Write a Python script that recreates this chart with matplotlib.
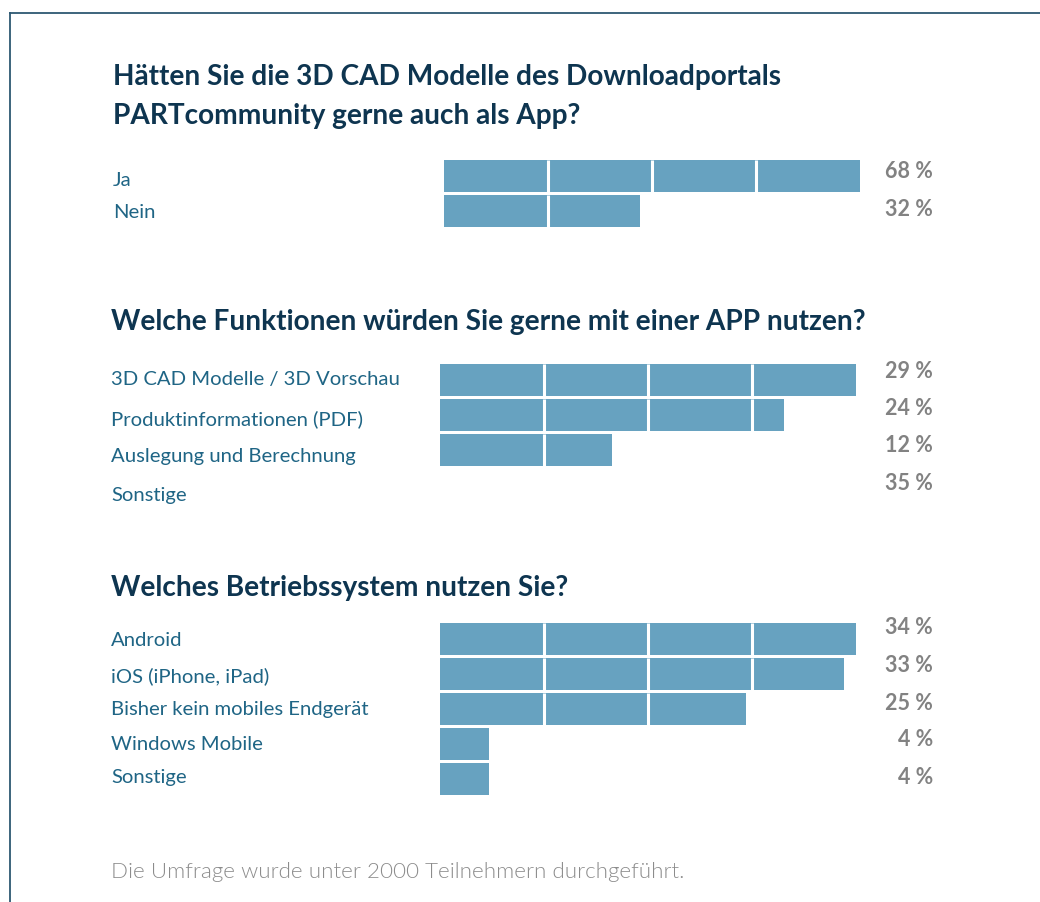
import matplotlib.pyplot as plt
from matplotlib.lines import Line2D
import numpy as np

# survey data
q1_title = "Hätten Sie die 3D CAD Modelle des Downloadportals\nPARTcommunity gerne auch als App?"
q1_labels = ["Ja", "Nein"]
q1_values = [68, 32]

q2_title = "Welche Funktionen würden Sie gerne mit einer APP nutzen?"
q2_labels = ["3D CAD Modelle / 3D Vorschau", "Produktinformationen (PDF)",
             "Auslegung und Berechnung", "Sonstige"]
q2_values = [29, 24, 12, 35]
q2_has_bar = [True, True, True, False]   # "Sonstige" has no bar in the original

q3_title = "Welches Betriebssystem nutzen Sie?"
q3_labels = ["Android", "iOS (iPhone, iPad)", "Bisher kein mobiles Endgerät",
             "Windows Mobile", "Sonstige"]
q3_values = [34, 33, 25, 4, 4]
q3_has_bar = [True, True, True, True, True]

footer = "Die Umfrage wurde unter 2000 Teilnehmern durchgeführt."

W, H = 1040, 902
BAR = "#67a2c0"
TITLE = "#0e3550"
LABEL = "#1f6585"
PCT = "#828282"
FONT = "Lato"

fig = plt.figure(figsize=(W / 100, H / 100), dpi=100)
fig.patch.set_facecolor("white")


def fx(x):
    return x / W


def fy(y):
    return 1 - y / H


def question(title, title_y, labels, values, has_bar, bar_left, bar_top,
             label_x, label_ys, pct_ys):
    # title_y is the baseline of the last title line
    fig.text(fx(label_x), fy(title_y), title, fontsize=20.2, fontweight="bold",
             color=TITLE, family=FONT, va="baseline", linespacing=1.6)
    n = len(values)
    pitch, bh = 35, 32
    ax = fig.add_axes([fx(bar_left), fy(bar_top + n * pitch - (pitch - bh)),
                       416 / W, (n * pitch - (pitch - bh)) / H])
    bar_vals = np.array([v if b else 0 for v, b in zip(values, has_bar)])
    vmax = bar_vals.max()
    seg = vmax / 4
    y = np.arange(n)
    h = bh / pitch
    ax.barh(y, bar_vals, height=h, color=BAR, linewidth=0)
    # white dividers every quarter of the longest bar
    for yi, v in zip(y, bar_vals):
        for k in range(1, 4):
            if k * seg < v:
                ax.vlines(k * seg, yi - h / 2, yi + h / 2, color="white", lw=2.2)
    ax.set_xlim(0, vmax)
    ax.set_ylim(n - 1 + h / 2, -h / 2)
    ax.axis("off")
    for lab, ly in zip(labels, label_ys):
        fig.text(fx(label_x), fy(ly), lab, fontsize=14.6, color=LABEL,
                 family=FONT, va="center")
    for v, py in zip(values, pct_ys):
        fig.text(fx(933), fy(py), f"{v} %", fontsize=15.5, fontweight="bold",
                 color=PCT, family=FONT, va="center", ha="right")


question(q1_title, 124, q1_labels, q1_values, [True, True], 444, 160,
         113, [181, 213], [172, 209])
question(q2_title, 330, q2_labels, q2_values, q2_has_bar, 440, 364,
         111, [380, 419, 457, 495], [372, 409, 446, 483])
question(q3_title, 596, q3_labels, q3_values, q3_has_bar, 440, 623,
         111, [641, 676, 710, 744, 778], [628, 665, 703, 740, 777])

fig.text(fx(111), fy(872), footer, fontsize=16.1, fontweight=300,
         color="#8c8c8c", family=FONT, va="center")

# frame lines at top and left
fig.add_artist(Line2D([fx(10), 1], [fy(13), fy(13)], color="#2d5872", lw=1.3))
fig.add_artist(Line2D([fx(10), fx(10)], [fy(13), 0], color="#2d5872", lw=1.3))

fig.savefig("out.png", dpi=100, facecolor="white")
